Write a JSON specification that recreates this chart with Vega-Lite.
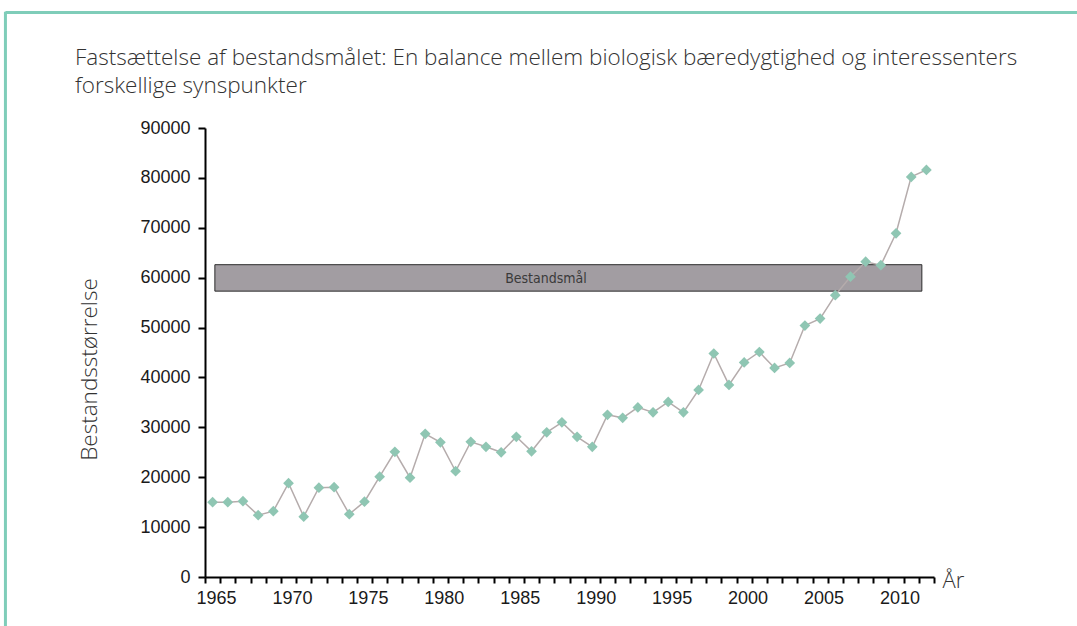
{
  "$schema": "https://vega.github.io/schema/vega-lite/v6.json",
  "width": 729,
  "height": 449,
  "autosize": "none",
  "padding": {"left": 205, "top": 128, "right": 143, "bottom": 49},
  "background": "white",
  "config": {"view": {"stroke": null}},
  "resolve": {"axis": {"x": "independent", "y": "independent"}},
  "title": {
    "text": ["Fastsættelse af bestandsmålet: En balance mellem biologisk bæredygtighed og interessenters", "forskellige synspunkter"],
    "anchor": "start",
    "frame": "group",
    "dx": -130,
    "offset": -87,
    "font": "Open Sans",
    "fontWeight": 300,
    "fontSize": 22.5,
    "lineHeight": 28,
    "color": "#333333"
  },
  "datasets": {
    "pop": [
      {"year": 1965, "value": 15000}, {"year": 1966, "value": 15000}, {"year": 1967, "value": 15200},
      {"year": 1968, "value": 12400}, {"year": 1969, "value": 13200}, {"year": 1970, "value": 18800},
      {"year": 1971, "value": 12100}, {"year": 1972, "value": 17900}, {"year": 1973, "value": 18000},
      {"year": 1974, "value": 12600}, {"year": 1975, "value": 15100}, {"year": 1976, "value": 20100},
      {"year": 1977, "value": 25100}, {"year": 1978, "value": 19900}, {"year": 1979, "value": 28700},
      {"year": 1980, "value": 27000}, {"year": 1981, "value": 21200}, {"year": 1982, "value": 27100},
      {"year": 1983, "value": 26100}, {"year": 1984, "value": 25000}, {"year": 1985, "value": 28100},
      {"year": 1986, "value": 25200}, {"year": 1987, "value": 29000}, {"year": 1988, "value": 31000},
      {"year": 1989, "value": 28100}, {"year": 1990, "value": 26100}, {"year": 1991, "value": 32500},
      {"year": 1992, "value": 31900}, {"year": 1993, "value": 34000}, {"year": 1994, "value": 33000},
      {"year": 1995, "value": 35100}, {"year": 1996, "value": 33000}, {"year": 1997, "value": 37500},
      {"year": 1998, "value": 44800}, {"year": 1999, "value": 38500}, {"year": 2000, "value": 43000},
      {"year": 2001, "value": 45100}, {"year": 2002, "value": 41900}, {"year": 2003, "value": 42900},
      {"year": 2004, "value": 50400}, {"year": 2005, "value": 51800}, {"year": 2006, "value": 56500},
      {"year": 2007, "value": 60200}, {"year": 2008, "value": 63200}, {"year": 2009, "value": 62500},
      {"year": 2010, "value": 68900}, {"year": 2011, "value": 80200}, {"year": 2012, "value": 81600}
    ],
    "target": [
      {"label": "Bestandsmål", "start": 1965.15, "end": 2011.7, "low": 57300, "high": 62600}
    ],
    "one": [{}]
  },
  "layer": [
    {
      "data": {"name": "target"},
      "mark": {"type": "rect", "fill": "#a29da2", "stroke": "#2b2b2b", "strokeWidth": 1},
      "encoding": {
        "x": {
          "field": "start", "type": "quantitative",
          "scale": {"domain": [1964.5, 2012.5], "nice": false, "zero": false},
          "axis": {
            "title": "År",
            "titleX": 737, "titleY": 3, "titleAlign": "left", "titleBaseline": "middle", "titleAnchor": null,
            "titleFont": "Open Sans", "titleFontWeight": 300, "titleFontSize": 22, "titleColor": "#333333",
            "values": [1964.5,1965.5,1966.5,1967.5,1968.5,1969.5,1970.5,1971.5,1972.5,1973.5,1974.5,1975.5,1976.5,1977.5,1978.5,1979.5,1980.5,1981.5,1982.5,1983.5,1984.5,1985.5,1986.5,1987.5,1988.5,1989.5,1990.5,1991.5,1992.5,1993.5,1994.5,1995.5,1996.5,1997.5,1998.5,1999.5,2000.5,2001.5,2002.5,2003.5,2004.5,2005.5,2006.5,2007.5,2008.5,2009.5,2010.5,2011.5,2012.5],
            "labelExpr": "(datum.value + 0.5) % 5 == 0 ? format(datum.value + 0.5, 'd') : ''",
            "labelOffset": 11, "labelFlush": false, "labelOverlap": false,
            "labelFont": "Liberation Sans", "labelFontSize": 18, "labelColor": "#1a1a1a", "labelPadding": 6,
            "grid": false, "domainColor": "#000000", "domainWidth": 2, "tickColor": "#000000", "tickWidth": 2, "tickSize": 6
          }
        },
        "x2": {"field": "end"},
        "y": {
          "field": "low", "type": "quantitative",
          "scale": {"domain": [0, 90000], "nice": false},
          "axis": {
            "title": "Bestandsstørrelse",
            "titleFont": "Open Sans", "titleFontWeight": 300, "titleFontSize": 22.5, "titleColor": "#333333", "titlePadding": 38,
            "titleY": 241,
            "values": [0,10000,20000,30000,40000,50000,60000,70000,80000,90000],
            "format": "d",
            "labelFont": "Liberation Sans", "labelFontSize": 18, "labelColor": "#1a1a1a", "labelPadding": 8,
            "grid": false, "domainColor": "#000000", "domainWidth": 2, "tickColor": "#000000", "tickWidth": 2, "tickSize": 7
          }
        },
        "y2": {"field": "high"}
      }
    },
    {
      "data": {"name": "one"},
      "mark": {"type": "rule", "color": "#7fcdb9", "strokeWidth": 3, "clip": false},
      "encoding": {
        "x": {"datum": 1951.36, "type": "quantitative", "axis": null},
        "x2": {"datum": 2030},
        "y": {"datum": 113151, "type": "quantitative", "axis": null}
      }
    },
    {
      "data": {"name": "one"},
      "mark": {"type": "rule", "color": "#7fcdb9", "strokeWidth": 3, "clip": false},
      "encoding": {
        "x": {"datum": 1951.36, "type": "quantitative", "axis": null},
        "y": {"datum": 113300, "type": "quantitative", "axis": null},
        "y2": {"datum": -15000}
      }
    },
    {
      "data": {"name": "target"},
      "mark": {"type": "text", "font": "DejaVu Sans Condensed", "fontSize": 14, "color": "#3a3a3a", "baseline": "middle", "align": "center"},
      "encoding": {
        "x": {"datum": 1986.95, "type": "quantitative", "axis": null},
        "y": {"datum": 59700, "type": "quantitative", "axis": null},
        "text": {"field": "label"}
      }
    },
    {
      "data": {"name": "pop"},
      "mark": {"type": "line", "color": "#b5acac", "strokeWidth": 1.5},
      "encoding": {
        "x": {"field": "year", "type": "quantitative", "axis": null},
        "y": {"field": "value", "type": "quantitative", "axis": null}
      }
    },
    {
      "data": {"name": "pop"},
      "mark": {"type": "point", "shape": "diamond", "filled": true, "color": "#8fc6b3", "opacity": 1, "size": 115},
      "encoding": {
        "x": {"field": "year", "type": "quantitative", "axis": null},
        "y": {"field": "value", "type": "quantitative", "axis": null}
      }
    }
  ]
}
